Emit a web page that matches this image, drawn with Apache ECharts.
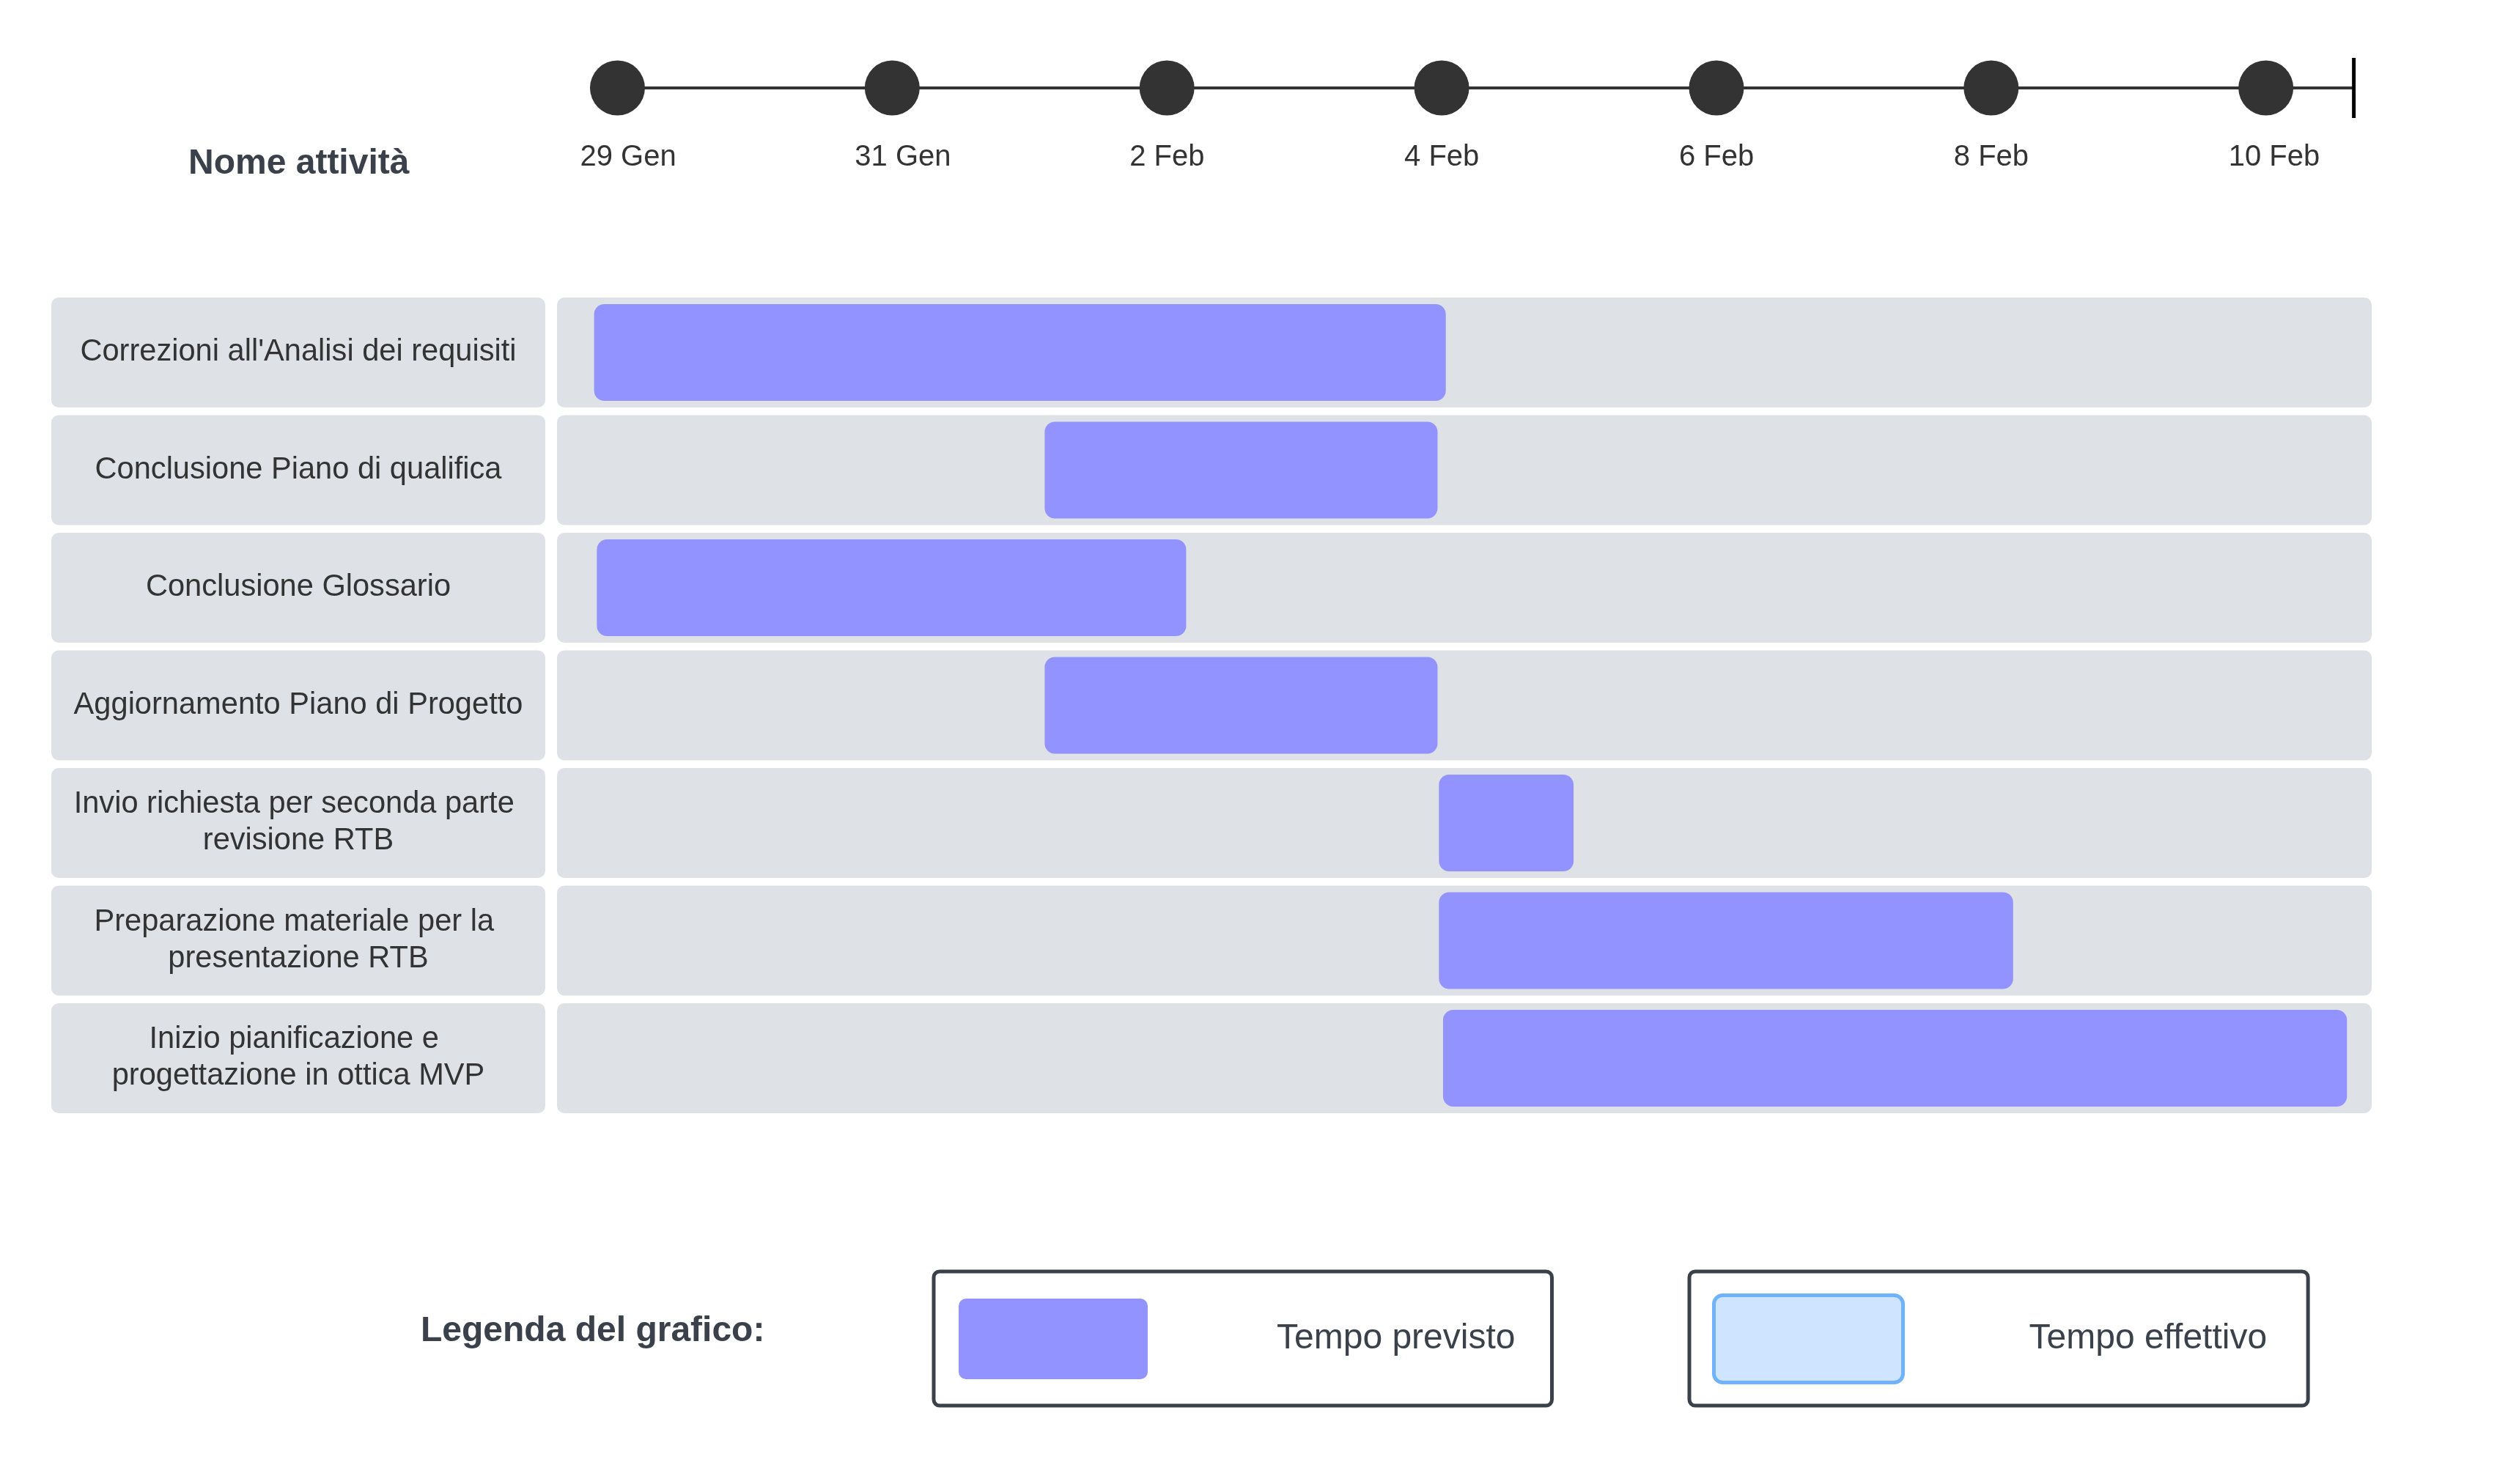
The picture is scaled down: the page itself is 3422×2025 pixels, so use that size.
<!DOCTYPE html>
<html>
<head>
<meta charset="utf-8">
<script src="https://cdn.jsdelivr.net/npm/echarts@6/dist/echarts.min.js"></script>
<style>
html,body{margin:0;padding:0;background:#ffffff;}
#chart{width:3422px;height:2025px;}
</style>
</head>
<body>
<div id="chart"></div>
<script>
// ---- data (days counted from 29 Gen = 0) ----
const categories = [
  "Correzioni all'Analisi dei requisiti",
  "Conclusione Piano di qualifica",
  "Conclusione Glossario",
  "Aggiornamento Piano di Progetto",
  "Invio richiesta per seconda parte revisione RTB",
  "Preparazione materiale per la presentazione RTB",
  "Inizio pianificazione e progettazione in ottica MVP"
];
const taskStart = [-0.17, 3.11, -0.15, 3.11, 5.98, 5.98, 6.01];
const taskEnd   = [ 6.03, 5.97,  4.14, 5.97, 6.96, 10.16, 12.59];
const tickDays   = [0, 2, 4, 6, 8, 10, 12];
const tickLabels = ['29 Gen', '31 Gen', '2 Feb', '4 Feb', '6 Feb', '8 Feb', '10 Feb'];
const timelineEnd = 12.64;
const XMIN = -0.44, XMAX = 12.77;
const headerText = 'Nome attività';
const legendTitle = 'Legenda del grafico:';
const seriesPlanned = 'Tempo previsto';
const seriesActual = 'Tempo effettivo';

// ---- styling ----
const FONT = 'Liberation Sans';
const ROW_H = 150, BAR_H = 132;
const BG = '#dee1e6', BAR = '#9393ff', DARK = '#3a414a';

function roundPath(w, h, r) {
  return 'path://M' + r + ' 0H' + (w - r) + 'A' + r + ' ' + r + ' 0 0 1 ' + w + ' ' + r +
    'V' + (h - r) + 'A' + r + ' ' + r + ' 0 0 1 ' + (w - r) + ' ' + h +
    'H' + r + 'A' + r + ' ' + r + ' 0 0 1 0 ' + (h - r) +
    'V' + r + 'A' + r + ' ' + r + ' 0 0 1 ' + r + ' 0Z';
}

const chart = echarts.init(document.getElementById('chart'), null, {renderer: 'canvas'});
const option = {
  backgroundColor: '#ffffff',
  animation: false,
  title: [
    {text: headerText, left: 257, top: 200, padding: 0,
     textStyle: {fontFamily: FONT, fontSize: 48, fontWeight: 'bold', color: DARK}},
    {text: legendTitle, left: 574, top: 1793, padding: 0,
     textStyle: {fontFamily: FONT, fontSize: 48, fontWeight: 'bold', color: DARK}}
  ],
  legend: [
    {left: 1274, top: 1735, padding: [37, 50, 36, 34], itemWidth: 258, itemHeight: 110,
     borderColor: DARK, borderWidth: 5, borderRadius: 8, selectedMode: false,
     data: [{name: seriesPlanned, icon: roundPath(258, 110, 10),
             itemStyle: {color: BAR, borderWidth: 0}}],
     textStyle: {fontFamily: FONT, fontSize: 48, color: DARK, padding: [0, 0, 0, 171]}},
    {left: 2305, top: 1735, padding: [30, 56, 29, 31], itemWidth: 258, itemHeight: 119,
     borderColor: DARK, borderWidth: 5, borderRadius: 8, selectedMode: false,
     data: [{name: seriesActual, icon: roundPath(258, 119, 12),
             itemStyle: {color: '#cfe4ff', borderColor: '#6fb3ff', borderWidth: 5}}],
     textStyle: {fontFamily: FONT, fontSize: 48, color: DARK, padding: [0, 0, 0, 167]}}
  ],
  grid: [
    {left: 760, right: 186, top: 80, height: 80},
    {left: 760, right: 186, top: 400.75, height: 1123.5}
  ],
  xAxis: [
    {type: 'value', gridIndex: 0, min: XMIN, max: XMAX, show: false},
    {type: 'value', gridIndex: 1, min: XMIN, max: XMAX, show: false}
  ],
  yAxis: [
    {type: 'value', gridIndex: 0, min: -1, max: 1, show: false},
    {type: 'category', gridIndex: 1, data: categories, inverse: true, z: 10,
     axisLine: {show: false}, axisTick: {show: false}, splitLine: {show: false},
     axisLabel: {fontFamily: FONT, fontSize: 41.6, lineHeight: 50, color: '#333333',
                 align: 'center', margin: 353, width: 635, overflow: 'break'}}
  ],
  series: [
    {type: 'line', xAxisIndex: 0, yAxisIndex: 0, silent: true, symbol: 'none', z: 1,
     data: [[tickDays[0], 0], [timelineEnd, 0]],
     lineStyle: {color: '#333333', width: 4}},
    {type: 'scatter', xAxisIndex: 0, yAxisIndex: 0, silent: true, z: 3,
     symbol: 'circle', symbolSize: 75,
     itemStyle: {color: '#333333', opacity: 1},
     data: tickDays.map((d, i) => [d, 0, tickLabels[i]]),
     label: {show: true, position: 'inside', align: 'left', verticalAlign: 'middle',
             offset: [-51, 95], formatter: p => p.data[2],
             fontFamily: FONT, fontSize: 40, color: '#333333'}},
    {type: 'scatter', xAxisIndex: 0, yAxisIndex: 0, silent: true, z: 3,
     symbol: 'rect', symbolSize: [5, 82], itemStyle: {color: '#000000', opacity: 1},
     data: [[timelineEnd, 0]]},
    {type: 'custom', name: 'rows', xAxisIndex: 1, yAxisIndex: 1, silent: true, z: 1,
     data: categories.map((n, i) => [XMIN, XMAX, i]),
     encode: {x: [0, 1], y: 2},
     renderItem: function (params, api) {
       const i = api.value(2);
       const a = api.coord([api.value(0), i]);
       const b = api.coord([api.value(1), i]);
       const y = a[1] - ROW_H / 2;
       return {type: 'group', children: [
         {type: 'rect', shape: {x: a[0] - 690, y: y, width: 674, height: ROW_H, r: 10},
          style: {fill: BG}},
         {type: 'rect', shape: {x: a[0], y: y, width: b[0] - a[0], height: ROW_H, r: 10},
          style: {fill: BG}}
       ]};
     }},
    {type: 'custom', name: seriesPlanned, xAxisIndex: 1, yAxisIndex: 1, z: 3,
     itemStyle: {color: BAR},
     data: categories.map((n, i) => [taskStart[i], taskEnd[i], i]),
     encode: {x: [0, 1], y: 2},
     renderItem: function (params, api) {
       const i = api.value(2);
       const a = api.coord([api.value(0), i]);
       const b = api.coord([api.value(1), i]);
       return {type: 'rect',
               shape: {x: a[0], y: a[1] - BAR_H / 2, width: b[0] - a[0], height: BAR_H, r: 14},
               style: {fill: BAR}};
     }},
    {type: 'custom', name: seriesActual, xAxisIndex: 1, yAxisIndex: 1, z: 3,
     itemStyle: {color: '#cfe4ff', borderColor: '#6fb3ff', borderWidth: 5},
     data: [],
     renderItem: function () { return null; }}
  ]
};
chart.setOption(option);
</script>
</body>
</html>
